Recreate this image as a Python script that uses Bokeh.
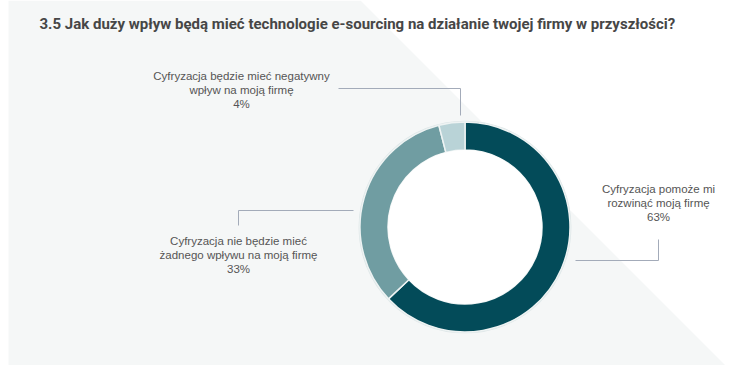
import math
from bokeh.plotting import figure
from bokeh.models import Range1d, ColumnDataSource
from bokeh.core.properties import value
from bokeh.embed import file_html
from bokeh.resources import INLINE

# ---- data ----
title_text = "3.5 Jak duży wpływ będą mieć technologie e-sourcing na działanie twojej firmy w przyszłości?"
categories = [
    "Cyfryzacja pomoże mi\nrozwinąć moją firmę",
    "Cyfryzacja nie będzie mieć\nżadnego wpływu na moją firmę",
    "Cyfryzacja będzie mieć negatywny\nwpływ na moją firmę",
]
values = [63, 33, 4]
colors = ["#034b59", "#709da2", "#b9d3d7"]

# ---- layout (pixels, y downward) ----
W, H = 734, 365


def Y(sy):
    # screen y -> data y
    return H - sy


p = figure(width=W, height=H, output_backend="svg", toolbar_location=None,
           x_range=Range1d(0, W), y_range=Range1d(0, H),
           min_border=0, outline_line_color=None,
           background_fill_color="white", border_fill_color="white")
p.axis.visible = False
p.xgrid.visible = False
p.ygrid.visible = False

# background diagonal panel
p.patch([8, 360, 360 + H, 8], [Y(0), Y(0), Y(H), Y(H)],
        fill_color="#f5f7f7", line_color=None)

# donut
cx, cy = 464.5, 226.5
r_in, r_out = 77, 105
total = sum(values)
starts, ends = [], []
cum = 0.0
for v in values:
    a0 = math.pi / 2 - 2 * math.pi * cum / total
    cum += v
    a1 = math.pi / 2 - 2 * math.pi * cum / total
    starts.append(a0)
    ends.append(a1)
src = ColumnDataSource(dict(start=starts, end=ends, color=colors))
p.circle(x=[cx], y=[Y(cy)], radius=r_out + 0.8, fill_color=None,
         line_color="#dde6e7", line_width=1.2)
p.annular_wedge(x=cx, y=Y(cy), inner_radius=r_in, outer_radius=r_out,
                start_angle="start", end_angle="end", direction="clock",
                fill_color="color", line_color="#eef3f3", line_width=1.5,
                source=src)
p.circle(x=[cx], y=[Y(cy)], radius=r_in, fill_color="white", line_color=None)

# connectors
conn_color = "#a3abb9"
connectors = [
    ([658, 658, 575], [239, 260, 260]),
    ([238, 238, 353], [225, 210, 210]),
    ([338, 460, 460], [88, 88, 115]),
]
for xs, ys in connectors:
    p.line(xs, [Y(v) for v in ys], line_color=conn_color, line_width=1)

# labels
label_x = [658, 238, 241]
label_top = [188, 240, 75]
line_gap = 14
tx, ty, tt = [], [], []
for cat, v, lx, ly in zip(categories, values, label_x, label_top):
    lines = cat.split("\n") + [f"{v}%"]
    for i, ln in enumerate(lines):
        tx.append(lx)
        ty.append(Y(ly + i * line_gap))
        tt.append(ln)
p.text(x=tx, y=ty, text=tt, text_align="center", text_baseline="middle",
       text_font=value("Liberation Sans"), text_font_size="11.5px",
       text_color="#555555")

# title
p.text(x=[39], y=[Y(23)], text=[title_text], text_align="left",
       text_baseline="middle", text_font=value("Roboto"),
       text_font_size="15px", text_font_style="bold", text_color="#464646")

open("out.html", "w").write(file_html(p, INLINE))
